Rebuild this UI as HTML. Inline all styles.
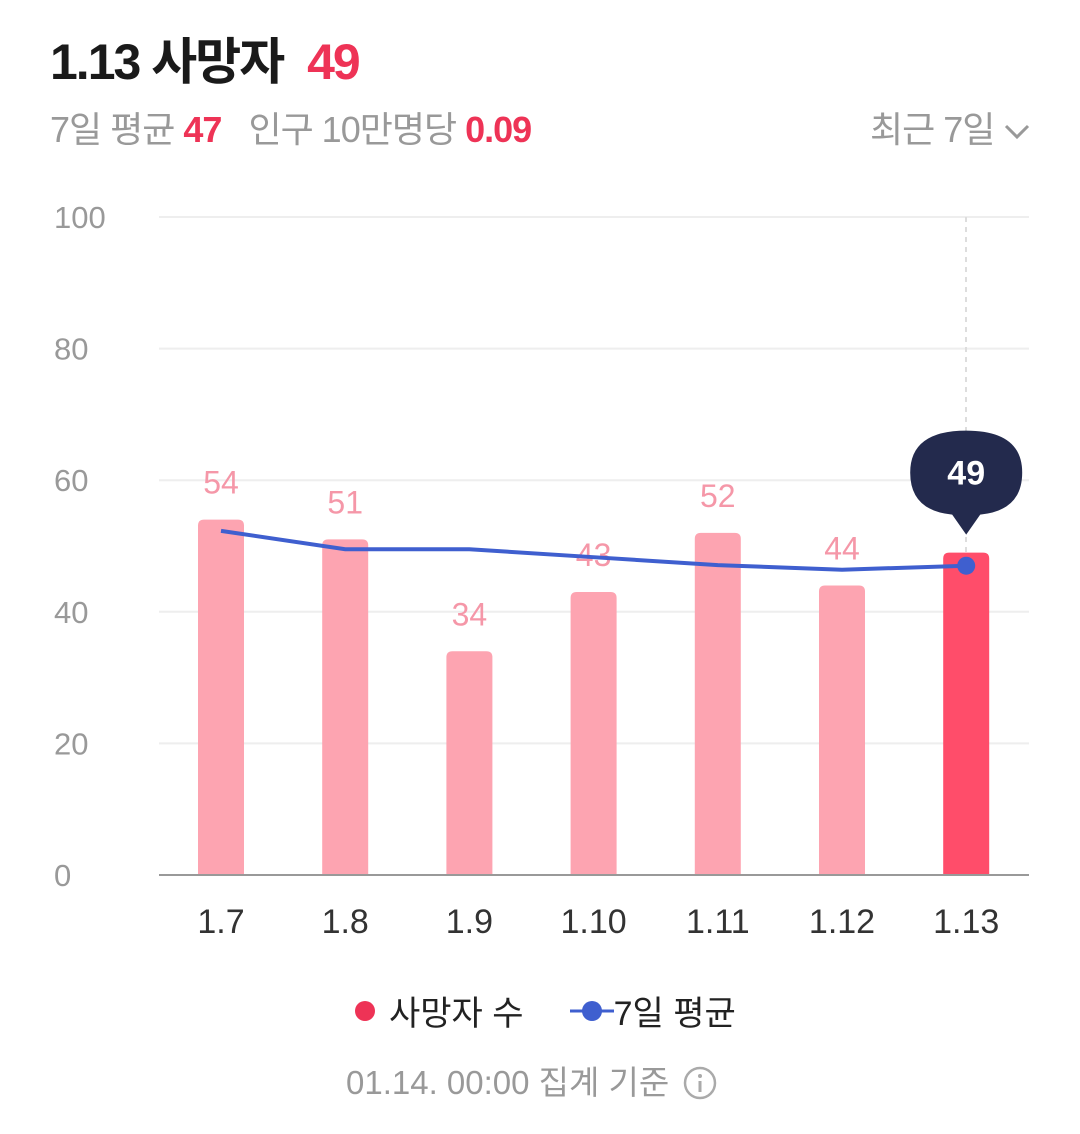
<!DOCTYPE html>
<html><head><meta charset="utf-8"><style>
body{margin:0;width:1080px;height:1134px;background:#fff;font-family:"Liberation Sans","Noto Sans CJK KR",sans-serif;overflow:hidden;position:relative}
.t{position:absolute;white-space:nowrap}
</style></head><body>
<div class="t" style="left:50px;top:22px;font-size:50px;font-weight:bold;color:#1a1a1a;letter-spacing:-2px">1.13 사망자 <span style="color:#ee3356;margin-left:12px">49</span></div>
<div class="t" style="left:50px;top:101px;font-size:36px;color:#999;letter-spacing:-1px">7일 평균 <b style="color:#ee3356">47</b>&nbsp;&nbsp; 인구 10만명당 <b style="color:#ee3356">0.09</b></div>
<div class="t" style="left:870px;top:101px;font-size:36px;color:#999;letter-spacing:-1px">최근 7일 <svg width="28" height="20" viewBox="0 0 28 20"><path d="M3 4 L14 15 L25 4" fill="none" stroke="#999" stroke-width="3"/></svg></div>
<svg id="chart" width="1080" height="1134" style="position:absolute;left:0;top:0"></svg>
<div class="t" style="left:355px;top:986px;font-size:34px;color:#222;display:flex;align-items:center">
<span style="display:flex;align-items:center"><span style="display:inline-block;width:20px;height:20px;border-radius:50%;background:#ee3356;margin-right:14px"></span>사망자 수</span>
<span style="display:flex;align-items:center;margin-left:46px"><svg width="44" height="24"><line x1="0" y1="12" x2="44" y2="12" stroke="#3f5fcf" stroke-width="3"/><circle cx="22" cy="12" r="10" fill="#3f5fcf"/></svg>7일 평균</span>
</div>
<div class="t" style="left:346px;top:1056px;font-size:33px;color:#999">01.14. 00:00 집계 기준 <svg width="36" height="36" style="vertical-align:-7px;margin-left:4px"><circle cx="18" cy="18" r="15" fill="none" stroke="#aaa" stroke-width="2.5"/><circle cx="18" cy="11" r="2" fill="#aaa"/><line x1="18" y1="16" x2="18" y2="27" stroke="#aaa" stroke-width="3"/></svg></div>
<script>
const categories=["1.7","1.8","1.9","1.10","1.11","1.12","1.13"];
const deaths=[54,51,34,43,52,44,49];
const avg7=[52.3,49.5,49.5,48.3,47.1,46.4,47];
const yTicks=[0,20,40,60,80,100];
const svg=document.getElementById('chart');const NS='http://www.w3.org/2000/svg';
const y=v=>875-v*6.58;const x=i=>221+i*124.2;
function mk(t,a,p){const e=document.createElementNS(NS,t);for(const k in a)e.setAttribute(k,a[k]);(p||svg).appendChild(e);return e;}
yTicks.forEach(v=>{
 if(v>0){const l=mk('line',{x1:159,x2:1029,y1:y(v),y2:y(v),stroke:'#eee','stroke-width':2});
 
 }
 const t=mk('text',{x:54,y:y(v)+11,'font-size':31,fill:'#999'});t.textContent=v;
 
 
});
const gl=mk('line',{x1:966,x2:966,y1:217,y2:875,stroke:'#ddd','stroke-width':2,'stroke-dasharray':'5,5'});


deaths.forEach((v,i)=>{
 const last=i===deaths.length-1;
 const b=mk('path',{d:`M${x(i)-23} 875 V${y(v)+6} Q${x(i)-23} ${y(v)} ${x(i)-17} ${y(v)} H${x(i)+17} Q${x(i)+23} ${y(v)} ${x(i)+23} ${y(v)+6} V875 Z`,fill:last?'#ff4d6a':'#fda4b1'});
 
 
 if(!last){const t=mk('text',{x:x(i),y:y(v)-26,'font-size':32,fill:'#f597a8','text-anchor':'middle'});t.textContent=v;
 
 }
 const xl=mk('text',{x:x(i),y:933,'font-size':34,fill:'#333','text-anchor':'middle'});xl.textContent=categories[i];
 
 
});
const ax=mk('line',{x1:159,x2:1029,y1:875,y2:875,stroke:'#999','stroke-width':2});


const ln=mk('polyline',{points:avg7.map((v,i)=>x(i)+','+y(v)).join(' '),fill:'none',stroke:'#3f5fcf','stroke-width':4});


const li=avg7.length-1;
const dot=mk('circle',{cx:x(li),cy:y(avg7[li]),r:9,fill:'#3f5fcf'});


const tx=x(li),ty=y(deaths[li])-18;
const tip=mk('path',{d:`M${tx} ${ty} L${tx-14} ${ty-20} Q${tx-56} ${ty-24} ${tx-56} ${ty-62} Q${tx-56} ${ty-104} ${tx} ${ty-104} Q${tx+56} ${ty-104} ${tx+56} ${ty-62} Q${tx+56} ${ty-24} ${tx+14} ${ty-20} Z`,fill:'#232a4d'});


const tt=mk('text',{x:tx,y:ty-50,'font-size':34,'font-weight':'bold',fill:'#fff','text-anchor':'middle'});tt.textContent=deaths[li];


</script>
</body></html>
